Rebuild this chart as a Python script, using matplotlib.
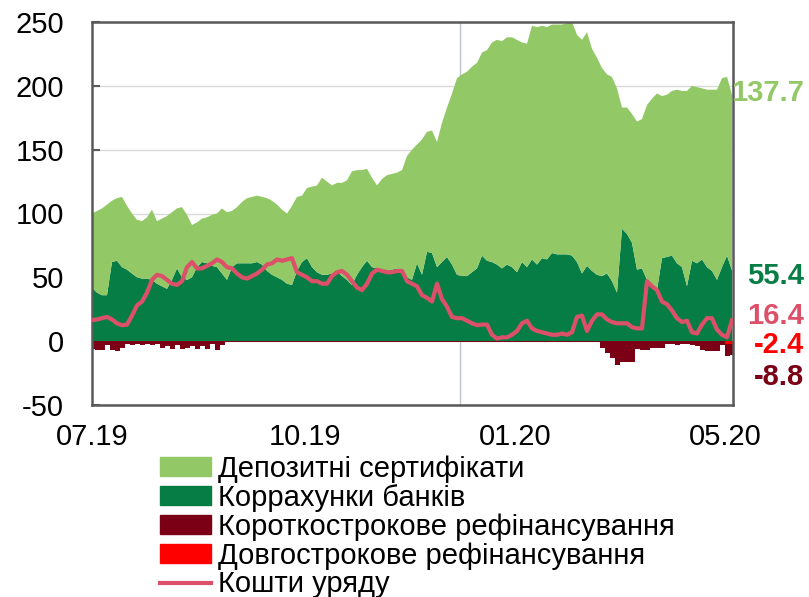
import matplotlib
matplotlib.use("Agg")
import matplotlib.pyplot as plt
import numpy as np
from matplotlib.patches import Patch
from matplotlib.lines import Line2D
import matplotlib.transforms as mtransforms

plt.rcParams["font.family"] = ["Liberation Sans", "DejaVu Sans"]
plt.rcParams["axes.unicode_minus"] = False

# щоденні спостереження (вибірка), 07.2019 - 05.2020, млрд грн
corr_accounts = [
    42, 38, 36, 36, 62, 63, 58, 56, 53, 50, 49, 49, 48, 45, 43, 41, 48, 57, 50, 48,
    50, 58, 62, 61, 59, 58, 53, 48, 58, 61, 61, 61, 61, 62, 60, 55, 52, 50, 48, 45,
    44, 55, 62, 65, 58, 54, 52, 52, 53, 55, 51, 48, 44, 52, 58, 63, 58, 57, 56, 55,
    56, 57, 55, 50, 48, 61, 52, 70, 69, 58, 62, 66, 60, 52, 51, 51, 54, 57, 67, 63,
    62, 60, 57, 60, 58, 54, 62, 58, 64, 60, 65, 64, 69, 68, 68, 68, 67, 62, 53, 59,
    55, 52, 51, 53, 47, 38, 88, 84, 77, 56, 57, 48, 42, 40, 65, 66, 67, 61, 58, 43,
    63, 61, 64, 58, 55, 48, 58, 67, 55.4,
]
dep_certificates = [
    58, 64, 68, 71, 48, 49, 55, 50, 47, 45, 45, 48, 55, 49, 53, 57, 53, 47, 55, 51,
    41, 35, 34, 36, 40, 42, 51, 53, 44, 44, 48, 51, 52, 52, 53, 57, 58, 57, 55, 55,
    62, 58, 52, 55, 63, 68, 76, 73, 69, 69, 73, 78, 89, 82, 76, 72, 70, 65, 71, 75,
    75, 75, 79, 95, 102, 93, 106, 94, 96, 98, 109, 117, 134, 154, 158, 160, 161, 161, 159, 165,
    172, 176, 178, 178, 180, 182, 172, 175, 183, 186, 182, 182, 179, 180, 180, 181, 183, 178, 183, 183,
    174, 170, 163, 156, 160, 160, 95, 99, 101, 116, 117, 137, 148, 154, 127, 127, 129, 136, 138, 153,
    137, 138, 134, 139, 142, 149, 148, 140, 137.7,
]
gov_funds = [
    16.5, 17, 18, 19, 17, 14, 12.5, 13, 20, 28, 31, 38, 48, 52, 51, 48, 45, 44, 47, 58,
    62, 57, 57, 59, 61, 64, 62, 58, 57, 53, 50, 49, 51, 53, 56, 60, 61, 64, 63, 64,
    65, 54, 52, 50, 47, 47, 45, 45, 51, 54, 55, 52, 47, 42, 40, 45, 53, 56, 55, 54,
    54, 55, 55, 47, 45, 43, 36, 34, 31, 45, 33, 27, 19, 18, 18, 16, 14, 12.5, 13, 13,
    5, 2, 3, 3, 5, 8, 14, 16, 10, 8, 7, 6, 5, 5, 6, 5, 7, 19, 20, 8,
    16, 21, 21, 17, 15, 14, 14, 14, 11, 10, 10, 47, 43, 40, 31, 29, 24, 18, 15, 16,
    7, 6, 13, 18, 18, 9, 5, 3, 16.4,
]
short_refin = [
    -6, -7, -7, -3, -7, -8, -5, -2, -3, -2, -3, -2, -3, -2, -5, -4, -6, -3, -6, -5,
    -4, -6, -4, -6, -2, -7, -3, -1, -1, -1, -1, -1, -1, -1, -1, -1, -1, -1, -1, -1,
    -1, -1, -1, -1, -1, -1, -1, -1, -1, -1, -1, -1, -1, -1, -1, -1, -1, -1, -1, -1,
    -1, -1, -1, -1, -1, -1, -1, -1, -1, -1, -1, -1, -1, -1, -1, -1, -1, -1, -1, -1,
    -1, -1, -1, -1, -1, -1, -1, -1, -1, -1, -1, -1, -1, -1, -1, -1, -1, -1, -1, -1,
    -1, -1, -5, -9, -13, -19, -16, -16, -16, -6, -7, -7, -5, -5, -5, -2, -2, -3, -2, -2,
    -3, -4, -7, -8, -8, -8, -3, -9, -8.8,
]
long_refin = [0] * 127 + [-2.4, -2.4]

x_labels = ["07.19", "10.19", "01.20", "05.20"]
x_label_pos = [0, 42.6, 84.6, 126.6]
year_break = 73.6

C_CERT = "#92C865"
C_CORR = "#077D46"
C_SHORT = "#7B0015"
C_LONG = "#FF0000"
C_GOV = "#DC506A"

x = np.arange(len(corr_accounts))

fig = plt.figure(figsize=(8.09, 5.97), dpi=100)
ax = fig.add_axes([92 / 809, 1 - 405 / 597, 641 / 809, 383 / 597])

ax.axvline(year_break, color="#BFC4C8", lw=1, zorder=0)
ax.stackplot(x, corr_accounts, dep_certificates, colors=[C_CORR, C_CERT],
             linewidth=0, zorder=2)
ax.bar(x, long_refin, width=1.0, color=C_LONG, linewidth=0, zorder=2)
ax.bar(x, short_refin, bottom=long_refin, width=1.0, color=C_SHORT,
       linewidth=0, zorder=2)
ax.plot(x, gov_funds, color=C_GOV, lw=3, zorder=3, solid_joinstyle="round")

ax.set_xlim(0, 128.2)
ax.set_ylim(-50, 250)
ax.set_yticks(range(-50, 251, 50))
ax.set_xticks(x_label_pos)
ax.set_xticklabels(x_labels)
ax.grid(True, axis="y", color="#D9D9D9", lw=1)
ax.set_axisbelow(True)
ax.tick_params(axis="y", direction="in", length=6, width=1.5, color="#595959",
               labelsize=21, pad=20)
ax.tick_params(axis="x", length=0, labelsize=21, pad=13)
for sp in ax.spines.values():
    sp.set_color("#595959")
    sp.set_linewidth(1.8)

# підписи останніх значень
trans = mtransforms.blended_transform_factory(ax.transAxes, ax.transData)
last_labels = [
    ("137.7", 194, C_CERT),
    ("55.4", 51, C_CORR),
    ("16.4", 19.6, C_GOV),
    ("-2.4", -3, C_LONG),
    ("-8.8", -28, C_SHORT),
]
for txt, yv, col in last_labels:
    ax.text(1.111, yv, txt, transform=trans, ha="right", va="center",
            fontsize=21, fontweight="bold", color=col, clip_on=False)

handles = [
    Patch(color=C_CERT, label="Депозитні сертифікати"),
    Patch(color=C_CORR, label="Коррахунки банків"),
    Patch(color=C_SHORT, label="Короткострокове рефінансування"),
    Patch(color=C_LONG, label="Довгострокове рефінансування"),
    Line2D([], [], color=C_GOV, lw=3, label="Кошти уряду"),
]
fig.legend(handles=handles, loc="upper left", bbox_to_anchor=(160 / 809, 1 - 455 / 597),
           frameon=False, fontsize=21, labelspacing=0.03, handlelength=1.75,
           handleheight=0.62, handletextpad=0.25, borderpad=0, borderaxespad=0)

fig.savefig("out.png", dpi=100)
